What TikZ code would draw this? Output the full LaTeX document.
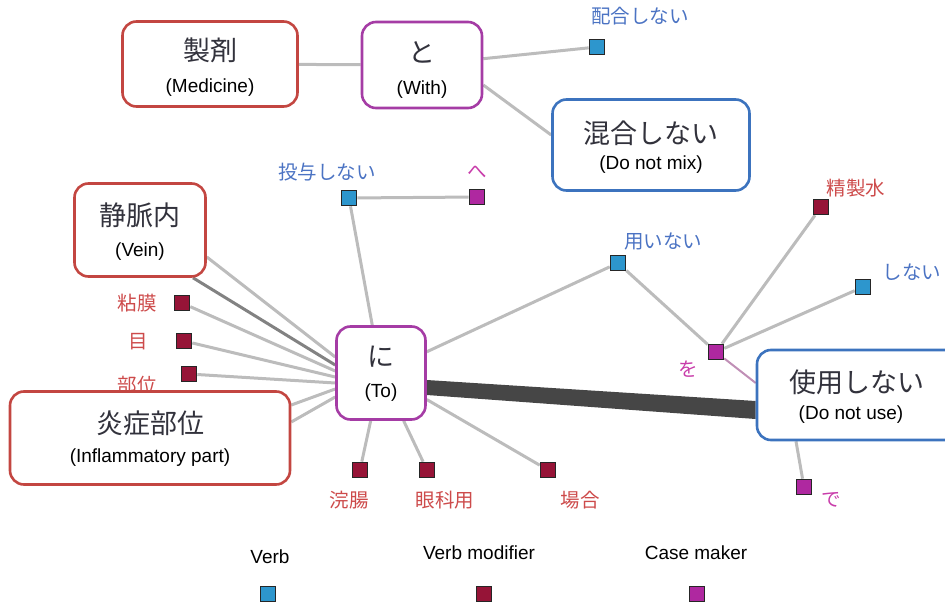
\documentclass[tikz,border=0pt]{standalone}
\usepackage{fontspec}
\setmainfont{Liberation Sans}
\newfontfamily\jp{Noto Sans CJK JP}
\definecolor{redb}{RGB}{195,70,65}
\definecolor{purb}{RGB}{165,60,165}
\definecolor{blub}{RGB}{60,115,190}
\definecolor{verbc}{RGB}{45,150,205}
\definecolor{modc}{RGB}{150,20,55}
\definecolor{casec}{RGB}{175,40,160}
\definecolor{bluet}{RGB}{75,115,195}
\definecolor{redt}{RGB}{205,75,75}
\definecolor{magt}{RGB}{200,60,170}
\definecolor{edgec}{RGB}{188,188,188}
\definecolor{edged}{RGB}{130,130,130}
\definecolor{thickc}{RGB}{70,70,70}
\definecolor{jpt}{RGB}{50,50,60}
\pgfdeclarelayer{bg}
\pgfsetlayers{bg,main}
\tikzset{
  box/.style={draw, rounded corners=14pt, line width=2.6pt, fill=white, inner sep=0pt},
  redbox/.style={box, draw=redb},
  purbox/.style={box, draw=purb},
  blubox/.style={box, draw=blub},
  jtxt/.style={inner sep=0pt, text=jpt, font=\jp\fontsize{27}{30}\selectfont},
  etxt/.style={inner sep=0pt, font=\fontsize{19}{22}\selectfont},
  sq/.style={draw=black!85, line width=1.6pt, minimum size=15pt, inner sep=0pt},
  verb/.style={sq, fill=verbc},
  vmod/.style={sq, fill=modc},
  cmark/.style={sq, fill=casec},
  lbl/.style={inner sep=0pt, font=\jp\fontsize{19.5}{22}\selectfont},
  bl/.style={lbl, text=bluet},
  rl/.style={lbl, text=redt},
  ml/.style={lbl, text=magt},
  edge/.style={draw=edgec, line width=3pt},
  leg/.style={inner sep=0pt, font=\fontsize{19}{22}\selectfont},
}
% #1 box name, #2 jp text, #3 en text, #4 jp shift up, #5 en shift down
\newcommand{\boxtext}[5]{%
  \node[jtxt] (#1-j) at ([yshift=#4]#1.center) {#2};
  \node[etxt] (#1-e) at ([yshift=-#5]#1.center) {#3};}
\begin{document}
\begin{tikzpicture}[x=1pt,y=-1pt]
\useasboundingbox (0,0) rectangle (945,615);
\clip (0,0) rectangle (945,615);
% label drawn under the box
\node[rl] (l_bui) at (137,385) {部位};
% boxes
\node[redbox, minimum width=175pt, minimum height=85pt] (sz) at (210,64) {};
\boxtext{sz}{製剤}{(Medicine)}{14pt}{24pt}
\node[purbox, minimum width=120pt, minimum height=86pt] (to) at (422,65) {};
\boxtext{to}{と}{(With)}{13pt}{25pt}
\node[blubox, minimum width=197pt, minimum height=91pt] (kg) at (651,145) {};
\boxtext{kg}{混合しない}{(Do not mix)}{12pt}{20pt}
\node[redbox, minimum width=131pt, minimum height=93pt] (jm) at (140,230) {};
\boxtext{jm}{静脈内}{(Vein)}{15pt}{22pt}
\node[redbox, minimum width=280pt, minimum height=93pt] (es) at (150,438) {};
\boxtext{es}{炎症部位}{(Inflammatory part)}{15pt}{20pt}
\node[purbox, minimum width=89pt, minimum height=93pt] (ni) at (381,373) {};
\boxtext{ni}{に}{(To)}{16pt}{20pt}
\node[blubox, minimum width=206pt, minimum height=90pt] (su) at (860,395) {};
\node[jtxt] (su-j) at (857,382) {使用しない};
\node[etxt] (su-e) at (851,415) {(Do not use)};
% squares
\node[verb] (hg) at (597,47) {};
\node[verb] (ty) at (349,198) {};
\node[cmark] (he) at (477,197) {};
\node[vmod] (nm) at (182,303) {};
\node[vmod] (me) at (184,341) {};
\node[vmod] (bu) at (189,374) {};
\node[vmod] (kc) at (360,470) {};
\node[vmod] (gk) at (427,470) {};
\node[vmod] (ba) at (548,470) {};
\node[verb] (mi) at (618,263) {};
\node[cmark] (wo) at (716,352) {};
\node[vmod] (ss) at (821,207) {};
\node[verb] (sn) at (863,287) {};
\node[cmark] (de) at (804,487) {};
% labels
\node[bl] (l_hg) at (640,16) {配合しない};
\node[bl] (l_ty) at (327,172) {投与しない};
\node[ml] (l_he) at (477,172) {へ};
\node[rl] (l_nm) at (137,303) {粘膜};
\node[rl] (l_me) at (138,342) {目};
\node[rl] (l_kc) at (349,500) {浣腸};
\node[rl] (l_gk) at (445,500) {眼科用};
\node[rl] (l_ba) at (580,500) {場合};
\node[bl] (l_mi) at (663,242) {用いない};
\node[ml] (l_wo) at (688,369) {を};
\node[rl] (l_ss) at (856,188) {精製水};
\node[bl] (l_sn) at (912,272) {しない};
\node[ml] (l_de) at (831,500) {で};
% legend
\node[leg] (lg1) at (270,557) {Verb};
\node[leg] (lg2) at (479,553) {Verb modifier};
\node[leg] (lg3) at (696,553) {Case maker};
\node[verb] (q1) at (268,594) {};
\node[vmod] (q2) at (484,594) {};
\node[cmark] (q3) at (697,594) {};
% edges
\begin{pgfonlayer}{bg}
\draw[edge] (sz) -- (to);
\draw[edge] (to) -- (hg);
\draw[edge] ([yshift=-20pt]to.east) -- ([yshift=10pt]kg.west);
\draw[edge] (ty) -- (he);
\draw[edge] (ty) -- (ni);
\draw[edge] ([yshift=-27pt]jm.east) -- ([yshift=16pt]ni.west);
\draw[edge, draw=edged] ([xshift=53pt]jm.south) -- ([yshift=8pt]ni.west);
\draw[edge] (nm) -- ([yshift=2pt]ni.west);
\draw[edge] (me) -- ([yshift=-4pt]ni.west);
\draw[edge] (bu) -- ([yshift=-10pt]ni.west);
\draw[edge] ([yshift=33pt]es.east) -- ([yshift=-16pt]ni.west);
\draw[edge] ([yshift=16pt]es.east) -- ([yshift=-24pt]ni.west);
\draw[edge] (ni) -- (kc);
\draw[edge] (ni) -- (gk);
\draw[edge] (ni) -- (ba);
\draw[edge] (ni) -- (mi);
\draw[edge] (mi) -- (wo);
\draw[edge] (wo) -- (ss);
\draw[edge] (wo) -- (sn);
\draw[edge, draw=magt!35!edgec, line width=2pt] (wo) -- ([yshift=12pt]su.west);
\draw[edge] ([xshift=-64pt]su.south) -- (de);
\fill[thickc] ([yshift=-7pt]ni.east) -- ([yshift=-6pt]su.west) -- ([yshift=-24pt]su.west) -- ([yshift=-22pt]ni.east) -- cycle;
\end{pgfonlayer}
\end{tikzpicture}
\end{document}
